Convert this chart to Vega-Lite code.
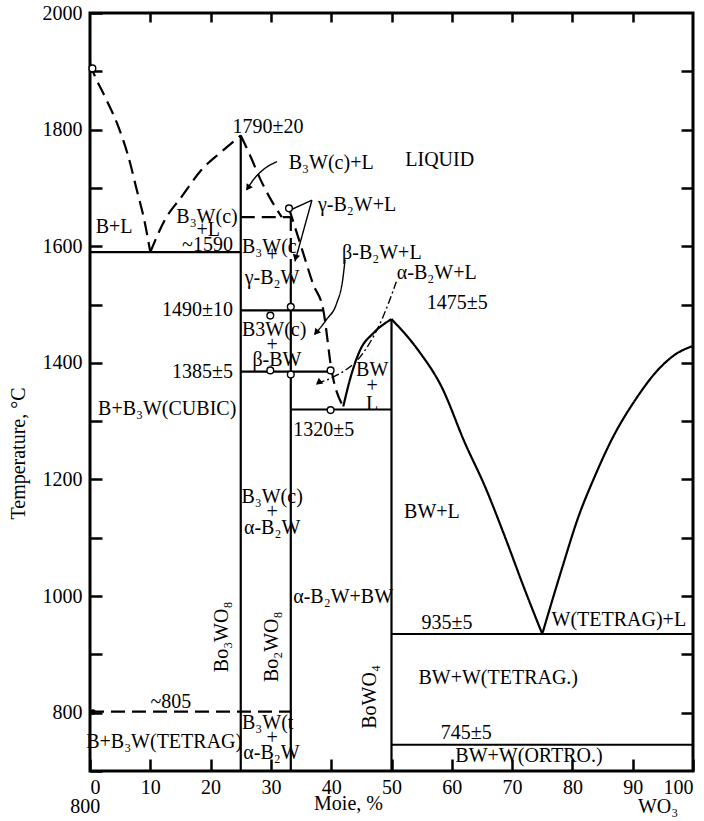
{
  "$schema": "https://vega.github.io/schema/vega-lite/v6.json",
  "width": 603,
  "height": 758,
  "autosize": "none",
  "padding": {"left": 90, "top": 13, "right": 11, "bottom": 50},
  "background": "white",
  "config": {
    "font": "Liberation Serif",
    "view": {"stroke": "black", "strokeWidth": 3},
    "text": {"font": "Liberation Serif", "fontSize": 20, "color": "black"},
    "axis": {"labelFont": "Liberation Serif", "titleFont": "Liberation Serif", "labelFontSize": 20, "titleFontSize": 20, "labelColor": "black", "titleColor": "black", "titleFontWeight": "normal", "domain": false, "grid": false, "tickColor": "black", "tickWidth": 2.5}
  },
  "datasets": {
    "curves": [
      {"id": "c1", "style": "dashed", "x": 0, "t": 1914},
      {"id": "c1", "style": "dashed", "x": 0.3, "t": 1905},
      {"id": "c1", "style": "dashed", "x": 2.5, "t": 1856},
      {"id": "c1", "style": "dashed", "x": 4.7, "t": 1805},
      {"id": "c1", "style": "dashed", "x": 6.35, "t": 1754},
      {"id": "c1", "style": "dashed", "x": 7.75, "t": 1697},
      {"id": "c1", "style": "dashed", "x": 9.1, "t": 1640},
      {"id": "c1", "style": "dashed", "x": 10, "t": 1590},
      {"id": "c2", "style": "dashed", "x": 10, "t": 1590},
      {"id": "c2", "style": "dashed", "x": 12.4, "t": 1645},
      {"id": "c2", "style": "dashed", "x": 15.2, "t": 1685},
      {"id": "c2", "style": "dashed", "x": 18.5, "t": 1731},
      {"id": "c2", "style": "dashed", "x": 21.8, "t": 1762},
      {"id": "c2", "style": "dashed", "x": 25, "t": 1790},
      {"id": "c3", "style": "dashed", "x": 25, "t": 1790},
      {"id": "c3", "style": "dashed", "x": 26.5, "t": 1757},
      {"id": "c3", "style": "dashed", "x": 28.2, "t": 1716},
      {"id": "c3", "style": "dashed", "x": 30, "t": 1680},
      {"id": "c3", "style": "dashed", "x": 31.8, "t": 1650},
      {"id": "c4", "style": "dashed", "x": 33, "t": 1665},
      {"id": "c4", "style": "dashed", "x": 35, "t": 1600},
      {"id": "c4", "style": "dashed", "x": 37, "t": 1535},
      {"id": "c4", "style": "dashed", "x": 38.7, "t": 1490},
      {"id": "c4", "style": "dashed", "x": 40.1, "t": 1385},
      {"id": "c4", "style": "dashed", "x": 42, "t": 1325},
      {"id": "c5", "style": "solid", "x": 42, "t": 1325},
      {"id": "c5", "style": "solid", "x": 43.1, "t": 1371},
      {"id": "c5", "style": "solid", "x": 44.8, "t": 1422},
      {"id": "c5", "style": "solid", "x": 47, "t": 1451},
      {"id": "c5", "style": "solid", "x": 50, "t": 1475},
      {"id": "c6", "style": "solid", "x": 50, "t": 1475},
      {"id": "c6", "style": "solid", "x": 54.4, "t": 1422},
      {"id": "c6", "style": "solid", "x": 58.3, "t": 1359},
      {"id": "c6", "style": "solid", "x": 62.2, "t": 1262},
      {"id": "c6", "style": "solid", "x": 65.5, "t": 1188},
      {"id": "c6", "style": "solid", "x": 68.8, "t": 1102},
      {"id": "c6", "style": "solid", "x": 72.1, "t": 1011},
      {"id": "c6", "style": "solid", "x": 75, "t": 935},
      {"id": "c7", "style": "solid", "x": 75, "t": 935},
      {"id": "c7", "style": "solid", "x": 78.2, "t": 1045},
      {"id": "c7", "style": "solid", "x": 81.0, "t": 1136},
      {"id": "c7", "style": "solid", "x": 83.7, "t": 1205},
      {"id": "c7", "style": "solid", "x": 86.5, "t": 1268},
      {"id": "c7", "style": "solid", "x": 90.4, "t": 1336},
      {"id": "c7", "style": "solid", "x": 94.2, "t": 1388},
      {"id": "c7", "style": "solid", "x": 97.0, "t": 1414},
      {"id": "c7", "style": "solid", "x": 100, "t": 1429}
    ],
    "segments": [
      {"id": "s1", "style": "solid", "ord": 1, "x": 0, "t": 1590},
      {"id": "s1", "style": "solid", "ord": 2, "x": 25, "t": 1590},
      {"id": "s2", "style": "solid", "ord": 1, "x": 25, "t": 1790},
      {"id": "s2", "style": "solid", "ord": 2, "x": 25, "t": 700},
      {"id": "s3", "style": "dashed", "ord": 1, "x": 25, "t": 1650},
      {"id": "s3", "style": "dashed", "ord": 2, "x": 33.3, "t": 1650},
      {"id": "s4", "style": "dashed", "ord": 1, "x": 33.3, "t": 1650},
      {"id": "s4", "style": "dashed", "ord": 2, "x": 33.3, "t": 1550},
      {"id": "s5", "style": "solid", "ord": 1, "x": 33.3, "t": 1550},
      {"id": "s5", "style": "solid", "ord": 2, "x": 33.3, "t": 700},
      {"id": "s6", "style": "solid", "ord": 1, "x": 25, "t": 1490},
      {"id": "s6", "style": "solid", "ord": 2, "x": 38.7, "t": 1490},
      {"id": "s7", "style": "solid", "ord": 1, "x": 25, "t": 1385},
      {"id": "s7", "style": "solid", "ord": 2, "x": 40.1, "t": 1385},
      {"id": "s8", "style": "solid", "ord": 1, "x": 33.3, "t": 1320},
      {"id": "s8", "style": "solid", "ord": 2, "x": 50, "t": 1320},
      {"id": "s9", "style": "solid", "ord": 1, "x": 50, "t": 1475},
      {"id": "s9", "style": "solid", "ord": 2, "x": 50, "t": 700},
      {"id": "s10", "style": "solid", "ord": 1, "x": 50, "t": 935},
      {"id": "s10", "style": "solid", "ord": 2, "x": 100, "t": 935},
      {"id": "s11", "style": "solid", "ord": 1, "x": 50, "t": 745},
      {"id": "s11", "style": "solid", "ord": 2, "x": 100, "t": 745},
      {"id": "s12", "style": "dashed", "ord": 1, "x": 0, "t": 802},
      {"id": "s12", "style": "dashed", "ord": 2, "x": 33.3, "t": 802}
    ],
    "leaders": [
      {"id": "l1", "style": "solid", "x": 26, "t": 1697},
      {"id": "l1", "style": "solid", "x": 27.1, "t": 1714},
      {"id": "l1", "style": "solid", "x": 28.7, "t": 1731},
      {"id": "l1", "style": "solid", "x": 31, "t": 1745},
      {"id": "l2", "style": "solid", "x": 33.2, "t": 1662},
      {"id": "l2", "style": "solid", "x": 36.8, "t": 1679},
      {"id": "l3", "style": "solid", "x": 34, "t": 1574},
      {"id": "l3", "style": "solid", "x": 36.8, "t": 1679},
      {"id": "l4", "style": "solid", "x": 37.3, "t": 1449},
      {"id": "l4", "style": "solid", "x": 39.2, "t": 1474},
      {"id": "l4", "style": "solid", "x": 40.9, "t": 1502},
      {"id": "l4", "style": "solid", "x": 41.9, "t": 1542},
      {"id": "l4", "style": "solid", "x": 42.3, "t": 1577},
      {"id": "l5", "style": "dashdot", "x": 37.6, "t": 1365},
      {"id": "l5", "style": "dashdot", "x": 40.4, "t": 1376},
      {"id": "l5", "style": "dashdot", "x": 45.3, "t": 1417},
      {"id": "l5", "style": "dashdot", "x": 48.6, "t": 1479},
      {"id": "l5", "style": "dashdot", "x": 50.8, "t": 1539}
    ],
    "arrow1": [{"x": 26.2, "t": 1700}],
    "arrow2": [{"x": 34.1, "t": 1580}],
    "arrow3": [{"x": 37.5, "t": 1452}],
    "arrow4": [{"x": 37.9, "t": 1366}],
    "circles": [
      {"x": 0.4, "t": 1905},
      {"x": 33, "t": 1665},
      {"x": 29.9, "t": 1481},
      {"x": 33.3, "t": 1496},
      {"x": 29.9, "t": 1387},
      {"x": 33.3, "t": 1380},
      {"x": 39.9, "t": 1387},
      {"x": 39.9, "t": 1319}
    ],
    "dots": [{"x": 0.5, "t": 801}],
    "labels_center": [
      {"label": "1790±20", "x": 29.5, "t": 1805},
      {"label": "B₃W(c)+L", "x": 40.0, "t": 1743},
      {"label": "LIQUID", "x": 58.0, "t": 1748},
      {"label": "γ-B₂W+L", "x": 44.3, "t": 1671},
      {"label": "B+L", "x": 4.0, "t": 1633},
      {"label": "B₃W(c)", "x": 19.4, "t": 1650},
      {"label": "+L", "x": 19.6, "t": 1628},
      {"label": "+", "x": 30.2, "t": 1585},
      {"label": "γ-B₂W", "x": 30.2, "t": 1546},
      {"label": "+", "x": 30.2, "t": 1431},
      {"label": "β-BW", "x": 31.0, "t": 1405},
      {"label": "β-B₂W+L", "x": 48.4, "t": 1589},
      {"label": "α-B₂W+L", "x": 57.5, "t": 1554},
      {"label": "1475±5", "x": 60.9, "t": 1503},
      {"label": "BW", "x": 46.8, "t": 1388},
      {"label": "+", "x": 46.8, "t": 1361},
      {"label": "L", "x": 46.8, "t": 1330},
      {"label": "B+B₃W(CUBIC)", "x": 12.8, "t": 1321},
      {"label": "B₃W(c)", "x": 30.2, "t": 1170},
      {"label": "+", "x": 30.2, "t": 1145},
      {"label": "α-B₂W", "x": 30.2, "t": 1117},
      {"label": "BW+L", "x": 56.7, "t": 1145},
      {"label": "935±5", "x": 59.2, "t": 954},
      {"label": "W(TETRAG)+L", "x": 87.7, "t": 959},
      {"label": "BW+W(TETRAG.)", "x": 67.7, "t": 860},
      {"label": "745±5", "x": 62.4, "t": 766},
      {"label": "BW+W(ORTRO.)", "x": 72.8, "t": 725},
      {"label": "~805", "x": 13.4, "t": 819},
      {"label": "B+B₃W(TETRAG)", "x": 12.3, "t": 750},
      {"label": "+", "x": 30.2, "t": 757},
      {"label": "α-B₂W", "x": 30.1, "t": 731},
      {"label": "800", "x": -0.8, "t": 639},
      {"label": "WO₃", "x": 94.2, "t": 639}
    ],
    "labels_left": [
      {"label": "B₃W(c", "x": 25.2, "t": 1599},
      {"label": "B3W(c)", "x": 25.2, "t": 1457},
      {"label": "1320±5", "x": 33.7, "t": 1285},
      {"label": "α-B₂W+BW", "x": 33.7, "t": 999},
      {"label": "B₃W(t", "x": 25.2, "t": 783}
    ],
    "labels_right": [
      {"label": "~1590", "x": 23.7, "t": 1602},
      {"label": "1490±10", "x": 23.7, "t": 1491},
      {"label": "1385±5", "x": 23.7, "t": 1385}
    ],
    "labels_vertical": [
      {"label": "Bo₃WO₈", "x": 21.9, "t": 930},
      {"label": "Bo₂WO₈", "x": 30.2, "t": 913},
      {"label": "BoWO₄", "x": 46.4, "t": 827}
    ]
  },
  "layer": [
    {
      "data": {"name": "curves"},
      "mark": {"type": "line", "interpolate": "monotone", "color": "black", "strokeWidth": 2.2},
      "encoding": {
        "x": {"field": "x", "type": "quantitative", "scale": {"domain": [0, 100], "nice": false, "zero": false},
          "axis": {"orient": "bottom", "values": [0, 10, 20, 30, 40, 50, 60, 70, 80, 90, 100], "tickSize": -12, "labelPadding": 18, "title": "Moie, %", "titleX": 258, "titleY": 32, "titleBaseline": "middle", "titleAnchor": "middle"}},
        "y": {"field": "t", "type": "quantitative", "scale": {"domain": [700, 2000], "nice": false, "zero": false},
          "axis": {"orient": "left", "values": [700, 800, 900, 1000, 1100, 1200, 1300, 1400, 1500, 1600, 1700, 1800, 1900, 2000], "labelExpr": "datum.value % 200 == 0 ? datum.label : ''", "tickSize": -12, "labelPadding": 20, "format": "d", "title": "Temperature, °C", "titleX": -72, "titleY": 440, "titleAngle": 270, "titleBaseline": "middle", "titleAnchor": "middle"}},
        "detail": {"field": "id"},
        "strokeDash": {"field": "style", "type": "nominal", "scale": {"domain": ["solid", "dashed", "dashdot"], "range": [[1, 0], [14, 7], [8, 3, 2, 3]]}, "legend": null}
      }
    },
    {
      "data": {"name": "segments"},
      "mark": {"type": "line", "color": "black", "strokeWidth": 2.2},
      "encoding": {
        "x": {"field": "x", "type": "quantitative", "axis": {"orient": "top", "values": [10, 20, 30, 40, 50, 60, 70, 80, 90], "labels": false, "tickSize": -9, "title": null}},
        "y": {"field": "t", "type": "quantitative", "axis": {"orient": "right", "values": [800, 900, 1000, 1100, 1200, 1300, 1400, 1500, 1600, 1700, 1800, 1900], "labels": false, "tickSize": -12, "title": null}},
        "detail": {"field": "id"},
        "order": {"field": "ord"},
        "strokeDash": {"field": "style", "type": "nominal", "scale": {"domain": ["solid", "dashed", "dashdot"], "range": [[1, 0], [14, 7], [8, 3, 2, 3]]}, "legend": null}
      }
    },
    {
      "data": {"name": "leaders"},
      "mark": {"type": "line", "interpolate": "monotone", "color": "black", "strokeWidth": 1.4},
      "encoding": {
        "x": {"field": "x", "type": "quantitative", "axis": null},
        "y": {"field": "t", "type": "quantitative", "axis": null},
        "detail": {"field": "id"},
        "strokeDash": {"field": "style", "type": "nominal", "scale": {"domain": ["solid", "dashed", "dashdot"], "range": [[1, 0], [14, 7], [8, 3, 2, 3]]}, "legend": null}
      }
    },
    {"data": {"name": "arrow1"}, "mark": {"type": "point", "shape": "triangle-up", "filled": true, "color": "black", "size": 55, "angle": 213, "opacity": 1},
      "encoding": {"x": {"field": "x", "type": "quantitative", "axis": null}, "y": {"field": "t", "type": "quantitative", "axis": null}}},
    {"data": {"name": "arrow2"}, "mark": {"type": "point", "shape": "triangle-up", "filled": true, "color": "black", "size": 55, "angle": 195, "opacity": 1},
      "encoding": {"x": {"field": "x", "type": "quantitative", "axis": null}, "y": {"field": "t", "type": "quantitative", "axis": null}}},
    {"data": {"name": "arrow3"}, "mark": {"type": "point", "shape": "triangle-up", "filled": true, "color": "black", "size": 55, "angle": 220, "opacity": 1},
      "encoding": {"x": {"field": "x", "type": "quantitative", "axis": null}, "y": {"field": "t", "type": "quantitative", "axis": null}}},
    {"data": {"name": "arrow4"}, "mark": {"type": "point", "shape": "triangle-up", "filled": true, "color": "black", "size": 55, "angle": 231, "opacity": 1},
      "encoding": {"x": {"field": "x", "type": "quantitative", "axis": null}, "y": {"field": "t", "type": "quantitative", "axis": null}}},
    {"data": {"name": "circles"}, "mark": {"type": "point", "shape": "circle", "filled": true, "fill": "white", "stroke": "black", "strokeWidth": 1.4, "size": 45, "opacity": 1},
      "encoding": {"x": {"field": "x", "type": "quantitative", "axis": null}, "y": {"field": "t", "type": "quantitative", "axis": null}}},
    {"data": {"name": "dots"}, "mark": {"type": "point", "shape": "circle", "filled": true, "color": "black", "size": 30, "opacity": 1},
      "encoding": {"x": {"field": "x", "type": "quantitative", "axis": null}, "y": {"field": "t", "type": "quantitative", "axis": null}}},
    {"data": {"name": "labels_center"}, "mark": {"type": "text", "align": "center", "baseline": "middle", "font": "Liberation Serif", "fontSize": 20},
      "encoding": {"x": {"field": "x", "type": "quantitative", "axis": null}, "y": {"field": "t", "type": "quantitative", "axis": null}, "text": {"field": "label"}}},
    {"data": {"name": "labels_left"}, "mark": {"type": "text", "align": "left", "baseline": "middle", "font": "Liberation Serif", "fontSize": 20},
      "encoding": {"x": {"field": "x", "type": "quantitative", "axis": null}, "y": {"field": "t", "type": "quantitative", "axis": null}, "text": {"field": "label"}}},
    {"data": {"name": "labels_right"}, "mark": {"type": "text", "align": "right", "baseline": "middle", "font": "Liberation Serif", "fontSize": 20},
      "encoding": {"x": {"field": "x", "type": "quantitative", "axis": null}, "y": {"field": "t", "type": "quantitative", "axis": null}, "text": {"field": "label"}}},
    {"data": {"name": "labels_vertical"}, "mark": {"type": "text", "align": "center", "baseline": "middle", "angle": 270, "font": "Liberation Serif", "fontSize": 20},
      "encoding": {"x": {"field": "x", "type": "quantitative", "axis": null}, "y": {"field": "t", "type": "quantitative", "axis": null}, "text": {"field": "label"}}}
  ],
  "resolve": {"axis": {"x": "independent", "y": "independent"}}
}
